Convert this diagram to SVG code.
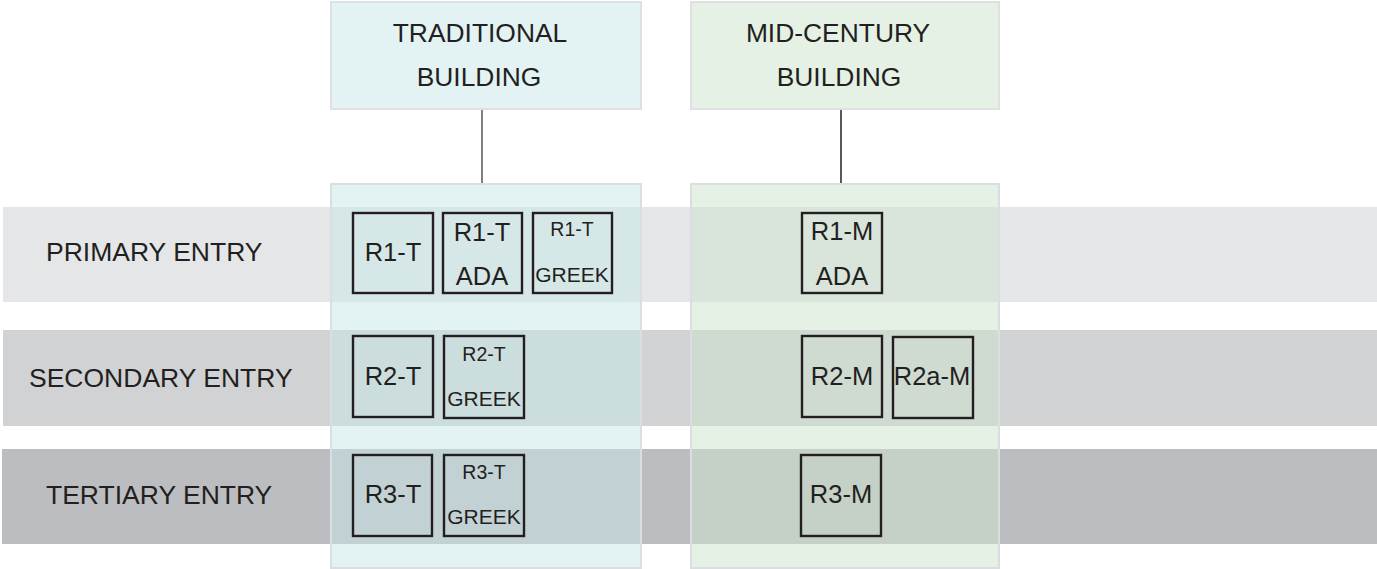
<svg xmlns="http://www.w3.org/2000/svg" width="1377" height="569" viewBox="0 0 1377 569">
<style>
text{font-family:"Liberation Sans",Arial,sans-serif;fill:#231f20;}
.hd{font-size:26.4px;text-anchor:middle;}
.lb{font-size:26.5px;}
.big{font-size:25.5px;text-anchor:middle;}
.sm{font-size:19.5px;text-anchor:middle;}
.gk{font-size:21px;text-anchor:middle;}
.room{fill:none;stroke:#231f20;stroke-width:2.4;}
.col{stroke:#dcdde0;stroke-width:2;}
.conn{stroke-width:1.5;fill:none;}
</style>
<g id="bands">
<rect id="band-primary" x="3" y="207" width="1374" height="95" fill="#e5e6e8"/>
<rect id="band-secondary" x="3" y="330" width="1374" height="96" fill="#d1d2d4"/>
<rect id="band-tertiary" x="2" y="449" width="1375" height="95" fill="#bcbdc0"/>
<text class="lb" x="46" y="261">PRIMARY ENTRY</text>
<text class="lb" x="29" y="387">SECONDARY ENTRY</text>
<text class="lb" x="46" y="504">TERTIARY ENTRY</text>
</g>
<g id="columns">
<rect id="col-traditional" class="col" x="331" y="184" width="310" height="384" fill="rgb(199,231,231)" fill-opacity="0.5"/>
<rect id="col-midcentury" class="col" x="691" y="184" width="308" height="384" fill="rgb(205,227,205)" fill-opacity="0.5"/>
</g>
<g id="connectors">
<line class="conn" x1="482" y1="110" x2="482" y2="183" stroke="#555"/>
<line class="conn" x1="841" y1="110" x2="841" y2="183" stroke="#222"/>
</g>
<g id="traditional-building">
<rect x="331" y="2" width="310" height="107" fill="#e3f3f3" stroke="#dfe0e2" stroke-width="2"/>
<text class="hd" x="480" y="42">TRADITIONAL</text>
<text class="hd" x="479" y="86">BUILDING</text>
</g>
<g id="midcentury-building">
<rect x="691" y="2" width="308" height="107" fill="#e6f1e6" stroke="#dfe0e2" stroke-width="2"/>
<text class="hd" x="838" y="42">MID-CENTURY</text>
<text class="hd" x="839" y="86">BUILDING</text>
</g>
<g id="r1-t">
<rect class="room" x="353" y="213" width="80" height="80"/>
<text class="big" x="393" y="261">R1-T</text>
</g>
<g id="r1-t-ada">
<rect class="room" x="443" y="213" width="79" height="80"/>
<text class="big" x="482" y="241">R1-T</text>
<text class="big" x="482" y="285">ADA</text>
</g>
<g id="r1-t-greek">
<rect class="room" x="533" y="213" width="79" height="80"/>
<text class="sm" x="572" y="236">R1-T</text>
<text class="gk" x="572" y="282">GREEK</text>
</g>
<g id="r1-m-ada">
<rect class="room" x="802" y="213" width="80" height="80"/>
<text class="big" x="842" y="240">R1-M</text>
<text class="big" x="842" y="285">ADA</text>
</g>
<g id="r2-t">
<rect class="room" x="353" y="336" width="80" height="81"/>
<text class="big" x="393" y="385">R2-T</text>
</g>
<g id="r2-t-greek">
<rect class="room" x="444" y="336" width="80" height="82"/>
<text class="sm" x="484" y="361">R2-T</text>
<text class="gk" x="484" y="406">GREEK</text>
</g>
<g id="r2-m">
<rect class="room" x="802" y="336" width="80" height="81"/>
<text class="big" x="842" y="385">R2-M</text>
</g>
<g id="r2a-m">
<rect class="room" x="893" y="337" width="80" height="81"/>
<text class="big" x="932" y="385">R2a-M</text>
</g>
<g id="r3-t">
<rect class="room" x="353" y="455" width="79" height="81"/>
<text class="big" x="393" y="503">R3-T</text>
</g>
<g id="r3-t-greek">
<rect class="room" x="444" y="455" width="80" height="81"/>
<text class="sm" x="484" y="479">R3-T</text>
<text class="gk" x="484" y="524">GREEK</text>
</g>
<g id="r3-m">
<rect class="room" x="801" y="455" width="80" height="81"/>
<text class="big" x="841" y="503">R3-M</text>
</g>
</svg>
